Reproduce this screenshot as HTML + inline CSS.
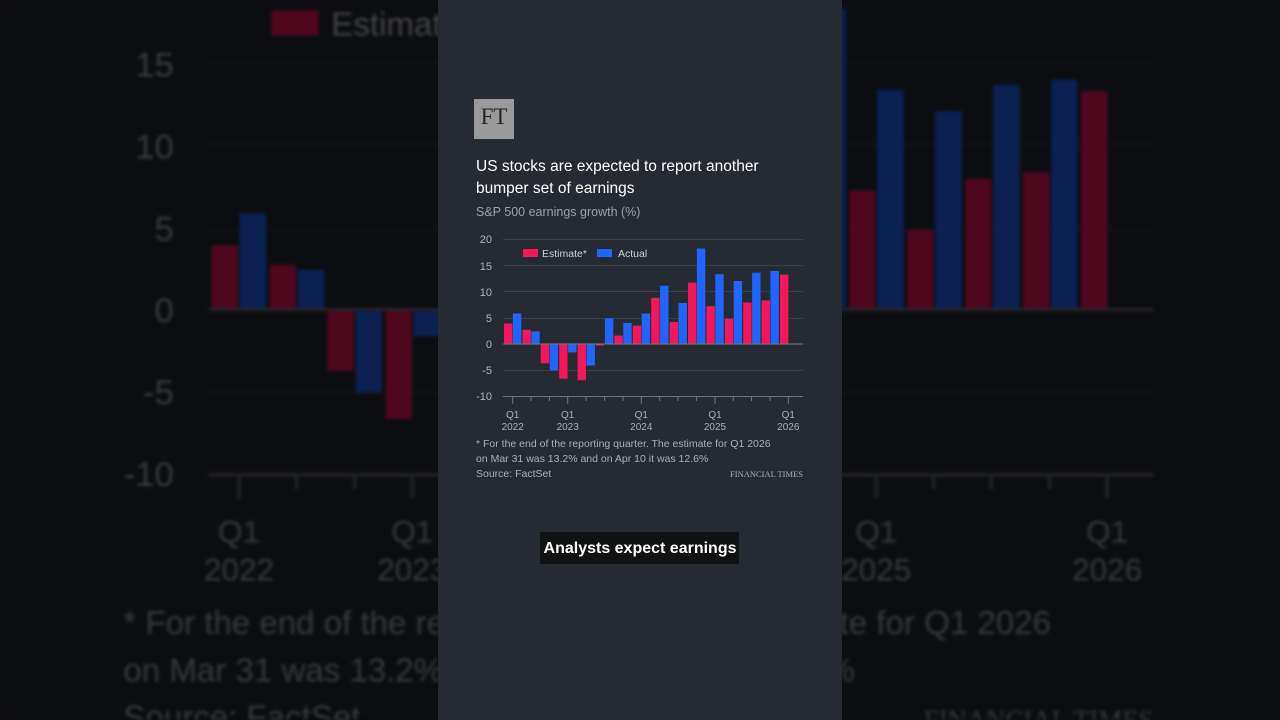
<!DOCTYPE html>
<html><head><meta charset="utf-8"><style>
html,body{margin:0;padding:0;background:#0d0e12;width:1280px;height:720px;overflow:hidden}
#wrap{position:relative;width:1280px;height:720px;overflow:hidden}
svg{position:absolute;left:0;top:0;overflow:hidden}
text{font-family:"Liberation Sans",sans-serif}
</style></head><body><div id="wrap">
<svg width="1280" height="720" viewBox="0 0 1280 720" style="filter:brightness(0.32) blur(1.5px)">
<g transform="translate(640,360) scale(3.15) translate(-640,-360)">
<rect x="438" y="0" width="404" height="720" fill="#262a33"/>
<g stroke="#33373f" stroke-width="1"><line x1="503" x2="803" y1="239.5" y2="239.5"/><line x1="503" x2="803" y1="265.5" y2="265.5"/><line x1="503" x2="803" y1="291.5" y2="291.5"/><line x1="503" x2="803" y1="318.5" y2="318.5"/><line x1="503" x2="803" y1="370.5" y2="370.5"/></g>
<g fill="#f5175a"><rect x="504" y="323.5" width="8.4" height="20.5"/><rect x="522.4" y="329.8" width="8.4" height="14.2"/><rect x="540.8" y="344" width="8.4" height="19.4"/><rect x="559.2" y="344" width="8.4" height="34.7"/><rect x="577.6" y="344" width="8.4" height="36.2"/><rect x="596" y="344" width="8.4" height="1.6"/><rect x="614.4" y="335.6" width="8.4" height="8.4"/><rect x="632.8" y="325.6" width="8.4" height="18.4"/><rect x="651.2" y="297.8" width="8.4" height="46.2"/><rect x="669.6" y="322" width="8.4" height="22"/><rect x="688" y="282.6" width="8.4" height="61.4"/><rect x="706.4" y="306.2" width="8.4" height="37.8"/><rect x="724.8" y="318.8" width="8.4" height="25.2"/><rect x="743.2" y="302.5" width="8.4" height="41.5"/><rect x="761.6" y="300.4" width="8.4" height="43.6"/><rect x="780" y="274.7" width="8.4" height="69.3"/></g>
<g fill="#1f66ff"><rect x="512.9" y="313.5" width="8.4" height="30.5"/><rect x="531.3" y="331.4" width="8.4" height="12.6"/><rect x="549.7" y="344" width="8.4" height="26.3"/><rect x="568.1" y="344" width="8.4" height="8.4"/><rect x="586.5" y="344" width="8.4" height="21.5"/><rect x="604.9" y="318.3" width="8.4" height="25.7"/><rect x="623.3" y="323" width="8.4" height="21"/><rect x="641.7" y="313.5" width="8.4" height="30.5"/><rect x="660.1" y="285.7" width="8.4" height="58.3"/><rect x="678.5" y="303" width="8.4" height="41"/><rect x="696.9" y="248.5" width="8.4" height="95.5"/><rect x="715.3" y="274.2" width="8.4" height="69.8"/><rect x="733.7" y="281" width="8.4" height="63"/><rect x="752.1" y="272.6" width="8.4" height="71.4"/><rect x="770.5" y="271" width="8.4" height="73"/></g>
<line x1="503" x2="803" y1="344" y2="344" stroke="#70757f"/><line x1="503" x2="803" y1="396.5" y2="396.5" stroke="#70757f"/>
<g stroke="#70757f"><line x1="512.7" x2="512.7" y1="397" y2="404"/><line x1="531" x2="531" y1="397" y2="401"/><line x1="549.4" x2="549.4" y1="397" y2="401"/><line x1="567.7" x2="567.7" y1="397" y2="404"/><line x1="586" x2="586" y1="397" y2="401"/><line x1="604.6" x2="604.6" y1="397" y2="401"/><line x1="623" x2="623" y1="397" y2="401"/><line x1="641.3" x2="641.3" y1="397" y2="404"/><line x1="659.7" x2="659.7" y1="397" y2="401"/><line x1="678" x2="678" y1="397" y2="401"/><line x1="696.4" x2="696.4" y1="397" y2="401"/><line x1="715" x2="715" y1="397" y2="404"/><line x1="733.2" x2="733.2" y1="397" y2="401"/><line x1="751.5" x2="751.5" y1="397" y2="401"/><line x1="770" x2="770" y1="397" y2="401"/><line x1="788.3" x2="788.3" y1="397" y2="404"/></g>
<g fill="#b0b4bc" font-size="11" text-anchor="end"><text x="492" y="243">20</text><text x="492" y="270">15</text><text x="492" y="296">10</text><text x="492" y="322">5</text><text x="492" y="348">0</text><text x="492" y="374">-5</text><text x="492" y="400">-10</text></g>
<rect x="523" y="249" width="15" height="8" fill="#f5175a"/><text x="542" y="257" font-size="10.5" fill="#d0d3d8">Estimate*</text>
<rect x="597" y="249" width="15" height="8" fill="#1f66ff"/><text x="618" y="257" font-size="10.5" fill="#d0d3d8">Actual</text>
<g fill="#aab0b8" font-size="10" text-anchor="middle"><text x="512.7" y="418">Q1</text><text x="512.7" y="430">2022</text><text x="567.7" y="418">Q1</text><text x="567.7" y="430">2023</text><text x="641.3" y="418">Q1</text><text x="641.3" y="430">2024</text><text x="715" y="418">Q1</text><text x="715" y="430">2025</text><text x="788.3" y="418">Q1</text><text x="788.3" y="430">2026</text></g>
<g fill="#aab0b8" font-size="10.5"><text x="476" y="447">* For the end of the reporting quarter. The estimate for Q1 2026</text><text x="476" y="462">on Mar 31 was 13.2% and on Apr 10 it was 12.6%</text><text x="476" y="477">Source: FactSet</text></g>
<text x="803" y="477" font-size="8.5" text-anchor="end" fill="#aab0b8" style="font-family:'Liberation Serif',serif">FINANCIAL TIMES</text>
</g></svg>

<svg width="1280" height="720" viewBox="0 0 1280 720">
<rect x="438" y="0" width="404" height="720" fill="#262a33"/>
<rect x="474" y="99" width="40" height="40" fill="#9a9a9a"/>
<text x="494" y="124" font-size="23" text-anchor="middle" fill="#262626" style="font-family:'Liberation Serif',serif">FT</text>
<text x="476" y="171" font-size="15.5" fill="#ffffff">US stocks are expected to report another</text>
<text x="476" y="193" font-size="15.5" fill="#ffffff">bumper set of earnings</text>
<text x="476" y="216" font-size="12.5" fill="#9aa0a8">S&amp;P 500 earnings growth (%)</text>
<g stroke="#3b404b" stroke-width="1"><line x1="503" x2="803" y1="239.5" y2="239.5"/><line x1="503" x2="803" y1="265.5" y2="265.5"/><line x1="503" x2="803" y1="291.5" y2="291.5"/><line x1="503" x2="803" y1="318.5" y2="318.5"/><line x1="503" x2="803" y1="370.5" y2="370.5"/></g>
<g fill="#f5175a"><rect x="504" y="323.5" width="8.4" height="20.5"/><rect x="522.4" y="329.8" width="8.4" height="14.2"/><rect x="540.8" y="344" width="8.4" height="19.4"/><rect x="559.2" y="344" width="8.4" height="34.7"/><rect x="577.6" y="344" width="8.4" height="36.2"/><rect x="596" y="344" width="8.4" height="1.6"/><rect x="614.4" y="335.6" width="8.4" height="8.4"/><rect x="632.8" y="325.6" width="8.4" height="18.4"/><rect x="651.2" y="297.8" width="8.4" height="46.2"/><rect x="669.6" y="322" width="8.4" height="22"/><rect x="688" y="282.6" width="8.4" height="61.4"/><rect x="706.4" y="306.2" width="8.4" height="37.8"/><rect x="724.8" y="318.8" width="8.4" height="25.2"/><rect x="743.2" y="302.5" width="8.4" height="41.5"/><rect x="761.6" y="300.4" width="8.4" height="43.6"/><rect x="780" y="274.7" width="8.4" height="69.3"/></g>
<g fill="#1f66ff"><rect x="512.9" y="313.5" width="8.4" height="30.5"/><rect x="531.3" y="331.4" width="8.4" height="12.6"/><rect x="549.7" y="344" width="8.4" height="26.3"/><rect x="568.1" y="344" width="8.4" height="8.4"/><rect x="586.5" y="344" width="8.4" height="21.5"/><rect x="604.9" y="318.3" width="8.4" height="25.7"/><rect x="623.3" y="323" width="8.4" height="21"/><rect x="641.7" y="313.5" width="8.4" height="30.5"/><rect x="660.1" y="285.7" width="8.4" height="58.3"/><rect x="678.5" y="303" width="8.4" height="41"/><rect x="696.9" y="248.5" width="8.4" height="95.5"/><rect x="715.3" y="274.2" width="8.4" height="69.8"/><rect x="733.7" y="281" width="8.4" height="63"/><rect x="752.1" y="272.6" width="8.4" height="71.4"/><rect x="770.5" y="271" width="8.4" height="73"/></g>
<line x1="503" x2="803" y1="344" y2="344" stroke="#70757f"/><line x1="503" x2="803" y1="396.5" y2="396.5" stroke="#70757f"/>
<g stroke="#70757f"><line x1="512.7" x2="512.7" y1="397" y2="404"/><line x1="531" x2="531" y1="397" y2="401"/><line x1="549.4" x2="549.4" y1="397" y2="401"/><line x1="567.7" x2="567.7" y1="397" y2="404"/><line x1="586" x2="586" y1="397" y2="401"/><line x1="604.6" x2="604.6" y1="397" y2="401"/><line x1="623" x2="623" y1="397" y2="401"/><line x1="641.3" x2="641.3" y1="397" y2="404"/><line x1="659.7" x2="659.7" y1="397" y2="401"/><line x1="678" x2="678" y1="397" y2="401"/><line x1="696.4" x2="696.4" y1="397" y2="401"/><line x1="715" x2="715" y1="397" y2="404"/><line x1="733.2" x2="733.2" y1="397" y2="401"/><line x1="751.5" x2="751.5" y1="397" y2="401"/><line x1="770" x2="770" y1="397" y2="401"/><line x1="788.3" x2="788.3" y1="397" y2="404"/></g>
<g fill="#b0b4bc" font-size="11" text-anchor="end"><text x="492" y="243">20</text><text x="492" y="270">15</text><text x="492" y="296">10</text><text x="492" y="322">5</text><text x="492" y="348">0</text><text x="492" y="374">-5</text><text x="492" y="400">-10</text></g>
<rect x="523" y="249" width="15" height="8" fill="#f5175a"/><text x="542" y="257" font-size="10.5" fill="#d0d3d8">Estimate*</text>
<rect x="597" y="249" width="15" height="8" fill="#1f66ff"/><text x="618" y="257" font-size="10.5" fill="#d0d3d8">Actual</text>
<g fill="#aab0b8" font-size="10" text-anchor="middle"><text x="512.7" y="418">Q1</text><text x="512.7" y="430">2022</text><text x="567.7" y="418">Q1</text><text x="567.7" y="430">2023</text><text x="641.3" y="418">Q1</text><text x="641.3" y="430">2024</text><text x="715" y="418">Q1</text><text x="715" y="430">2025</text><text x="788.3" y="418">Q1</text><text x="788.3" y="430">2026</text></g>
<g fill="#aab0b8" font-size="10.5"><text x="476" y="447">* For the end of the reporting quarter. The estimate for Q1 2026</text><text x="476" y="462">on Mar 31 was 13.2% and on Apr 10 it was 12.6%</text><text x="476" y="477">Source: FactSet</text></g>
<text x="803" y="477" font-size="8.5" text-anchor="end" fill="#aab0b8" style="font-family:'Liberation Serif',serif">FINANCIAL TIMES</text>
<rect x="540" y="532" width="199" height="32" fill="#111214"/>
<text x="640" y="553" font-size="16" font-weight="bold" fill="#ffffff" text-anchor="middle">Analysts expect earnings</text>
</svg>
</div></body></html>
